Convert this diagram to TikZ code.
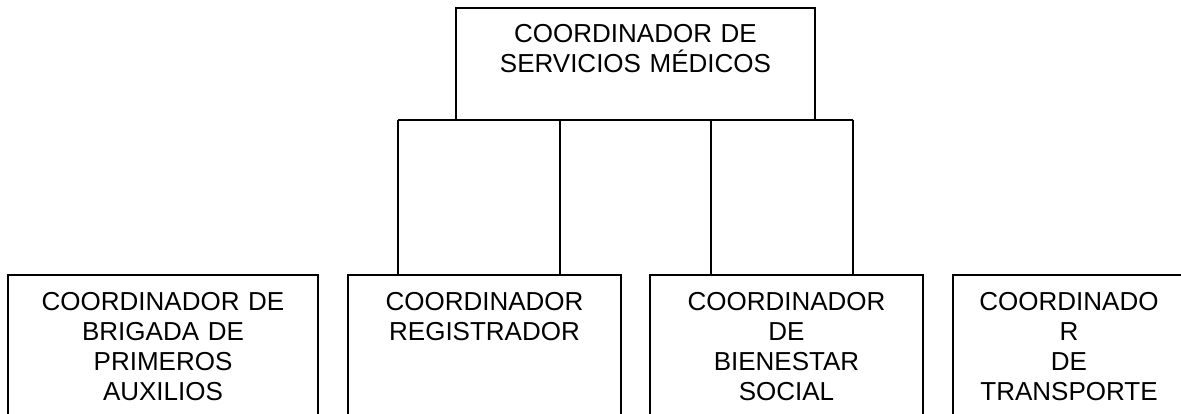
\documentclass[tikz,border=0pt]{standalone}
\usepackage{fontspec}
\setmainfont{Liberation Sans}
\begin{document}
\begin{tikzpicture}[x=1pt,y=-1pt,
  box/.style={draw=black, line width=1.6pt, rectangle, inner sep=0pt, outer sep=0pt, anchor=north west},
  lbl/.style={font={\fontsize{26}{30}\selectfont}, align=center, inner sep=0pt, anchor=base},
  conn/.style={draw=black, line width=1.6pt}]
\useasboundingbox (0,0) rectangle (1181,414);
\clip (0,0) rectangle (1181,414);
\fill[white] (0,0) rectangle (1181,414);
% boxes
\node[box, minimum width=359pt, minimum height=112pt] (top) at (456,8) {};
\node[box, minimum width=310pt, minimum height=170pt] (b1) at (8,275) {};
\node[box, minimum width=273pt, minimum height=170pt] (b2) at (348,275) {};
\node[box, minimum width=273pt, minimum height=170pt] (b3) at (650,275) {};
\node[box, minimum width=240pt, minimum height=170pt] (b4) at (953,275) {};
% texts
\node[lbl, text width=340pt] (t0) at ([yshift=-35pt]top.north) {COORDINADOR DE\\SERVICIOS MÉDICOS};
\node[lbl, text width=300pt] (t1) at ([yshift=-35pt]b1.north) {COORDINADOR DE\\BRIGADA DE\\PRIMEROS\\AUXILIOS};
\node[lbl, text width=260pt] (t2) at ([yshift=-35pt]b2.north) {COORDINADOR\\REGISTRADOR};
\node[lbl, text width=260pt] (t3) at ([yshift=-35pt]b3.north) {COORDINADOR\\DE\\BIENESTAR\\SOCIAL};
\node[lbl, text width=225pt] (t4) at ([xshift=-4pt,yshift=-35pt]b4.north) {COORDINADO\\R\\DE\\TRANSPORTE};
% connectors
\coordinate (j1) at (398,120);
\coordinate (j2) at (560,120);
\coordinate (j3) at (711,120);
\coordinate (j4) at (853,120);
\draw[conn] (j1) -- (j4);
\draw[conn] (j1) -- (j1 |- b2.north);
\draw[conn] (j2) -- (j2 |- b2.north);
\draw[conn] (j3) -- (j3 |- b3.north);
\draw[conn] (j4) -- (j4 |- b3.north);
\end{tikzpicture}
\end{document}
